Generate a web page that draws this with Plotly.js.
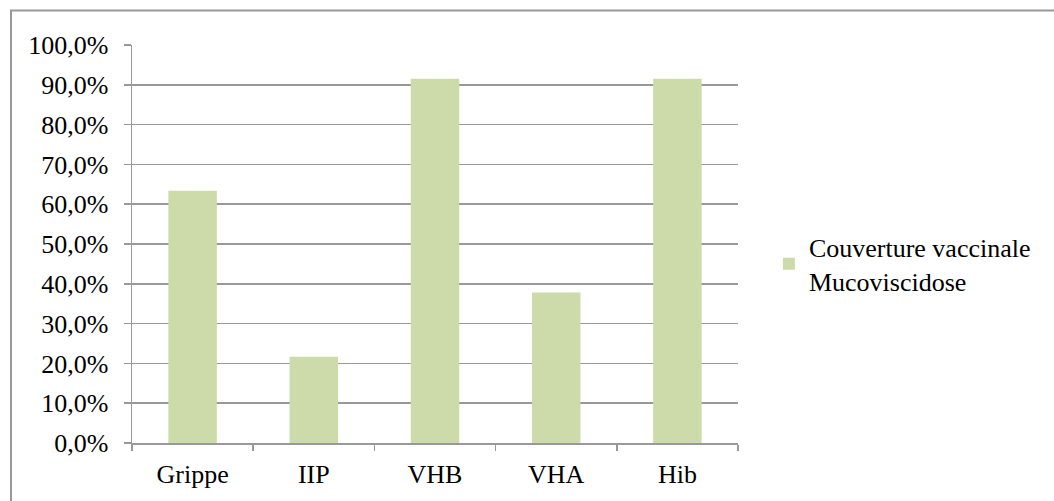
<!DOCTYPE html>
<html>
<head>
<meta charset="utf-8">
<script src="https://cdn.plot.ly/plotly-3.0.1.min.js"></script>
<style>
html,body{margin:0;padding:0;background:#fff;}
#chart{width:1054px;height:501px;}
</style>
</head>
<body>
<div id="chart"></div>
<script>
const categories = ["Grippe", "IIP", "VHB", "VHA", "Hib"];
const couverture = [63.4, 21.7, 91.5, 37.8, 91.5];
const seriesName = "Couverture vaccinale<br>Mucoviscidose";
const yTicks = [0, 10, 20, 30, 40, 50, 60, 70, 80, 90, 100];
const yTickText = yTicks.map(v => v.toFixed(1).replace(".", ",") + "%");

const font = {family: "Liberation Serif, Times New Roman, serif", size: 26, color: "#000"};

const trace = {
  type: "bar",
  x: categories,
  y: couverture,
  name: seriesName,
  marker: {color: "#CCDBA9", line: {width: 0}},
  showlegend: true,
  hoverinfo: "x+y"
};

const layout = {
  width: 1054,
  height: 501,
  margin: {l: 132, r: 316, t: 45, b: 58, pad: 0},
  paper_bgcolor: "#fff",
  plot_bgcolor: "#fff",
  font: font,
  bargap: 0.6,
  showlegend: true,
  legend: {
    x: 1.051, xanchor: "left",
    y: 0.45, yanchor: "middle",
    font: font,
    bgcolor: "rgba(0,0,0,0)",
    itemwidth: 30
  },
  xaxis: {
    type: "category",
    showline: true, linecolor: "#999", linewidth: 1.5,
    ticks: "outside", tickson: "boundaries", ticklen: 6, tickcolor: "#999", tickwidth: 1.5,
    showgrid: false, zeroline: false,
    tickfont: font,
    ticklabelstandoff: 7
  },
  yaxis: {
    range: [0, 100],
    tickmode: "array",
    tickvals: yTicks,
    ticktext: yTickText,
    showline: true, linecolor: "#999", linewidth: 1.5,
    ticks: "outside", ticklen: 7, tickcolor: "#999", tickwidth: 1.5,
    showgrid: true, gridcolor: "#999", gridwidth: 1.5,
    zeroline: false,
    tickfont: font,
    ticklabelstandoff: 10
  },
  shapes: [{
    type: "rect", xref: "paper", yref: "paper",
    x0: (11 - 132) / 606, x1: (1070 - 132) / 606,
    y0: (443.5 - 520) / 398, y1: (443.5 - 11) / 398,
    line: {color: "#999", width: 2},
    fillcolor: "rgba(0,0,0,0)",
    layer: "below"
  }]
};

Plotly.newPlot("chart", [trace], layout, {displayModeBar: false, staticPlot: true});
</script>
</body>
</html>
